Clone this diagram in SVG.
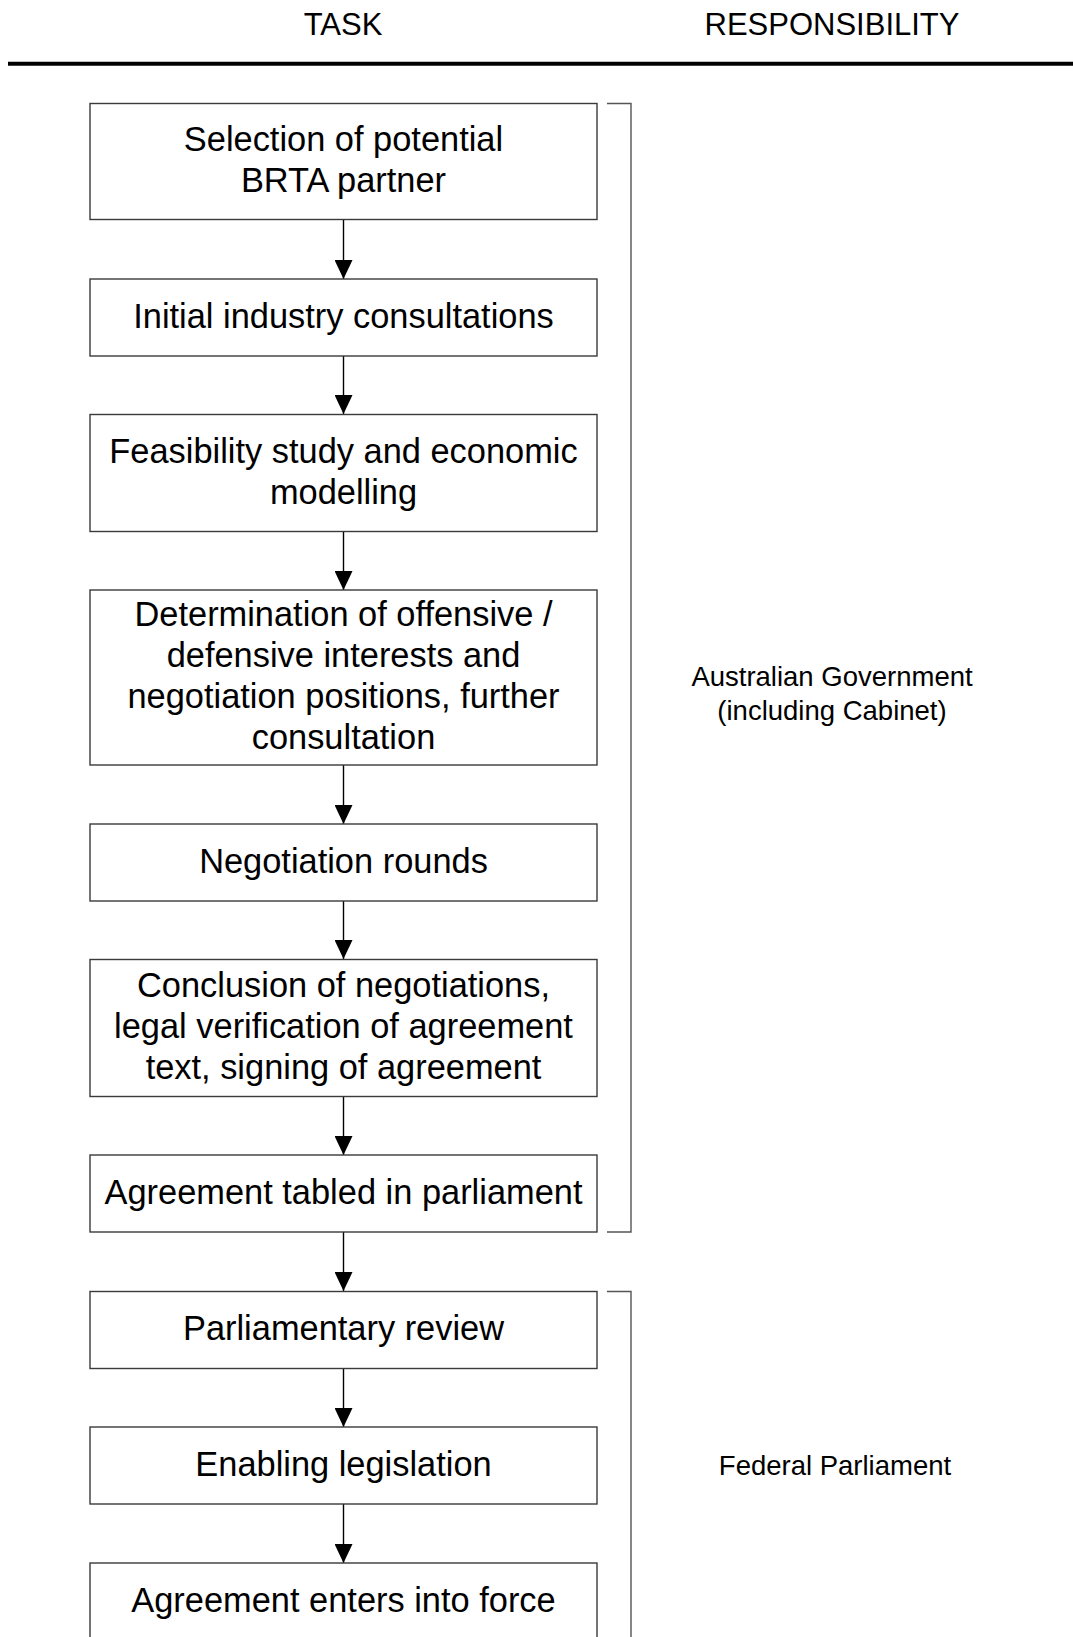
<svg xmlns="http://www.w3.org/2000/svg" width="1073" height="1637" viewBox="0 0 1073 1637">
<style>
  .bg { fill: #ffffff; }
  .box { fill: #ffffff; stroke: #3a3a3a; stroke-width: 1.4; }
  .t { font-family: "Liberation Sans", Arial, sans-serif; font-size: 34.4px; fill: #000; text-anchor: middle; }
  .h { font-family: "Liberation Sans", Arial, sans-serif; font-size: 31px; fill: #000; text-anchor: middle; }
  .r { font-family: "Liberation Sans", Arial, sans-serif; font-size: 27.5px; fill: #000; text-anchor: middle; }
  .con { stroke: #000; stroke-width: 1.4; fill: none; }
  .br { stroke: #555; stroke-width: 1.4; fill: none; }
</style>
<defs>
  <marker id="arr" markerUnits="userSpaceOnUse" markerWidth="19" markerHeight="18" viewBox="0 0 19 18" refX="19" refY="9" orient="auto">
    <path d="M0,0 L19,9 L0,18 Z" fill="#000"/>
  </marker>
</defs>
<rect class="bg" x="0" y="0" width="1073" height="1637"/>

<g id="header">
  <text class="h" x="343" y="35">TASK</text>
  <text class="h" x="832" y="35">RESPONSIBILITY</text>
  <line x1="8" y1="63.7" x2="1073" y2="63.7" stroke="#000" stroke-width="4"/>
</g>

<g id="connectors">
  <line class="con" x1="343.5" y1="219" x2="343.5" y2="279" marker-end="url(#arr)"/>
  <line class="con" x1="343.5" y1="356" x2="343.5" y2="414" marker-end="url(#arr)"/>
  <line class="con" x1="343.5" y1="531" x2="343.5" y2="590" marker-end="url(#arr)"/>
  <line class="con" x1="343.5" y1="765" x2="343.5" y2="824" marker-end="url(#arr)"/>
  <line class="con" x1="343.5" y1="901" x2="343.5" y2="959" marker-end="url(#arr)"/>
  <line class="con" x1="343.5" y1="1096" x2="343.5" y2="1155" marker-end="url(#arr)"/>
  <line class="con" x1="343.5" y1="1232" x2="343.5" y2="1291" marker-end="url(#arr)"/>
  <line class="con" x1="343.5" y1="1368" x2="343.5" y2="1427" marker-end="url(#arr)"/>
  <line class="con" x1="343.5" y1="1504" x2="343.5" y2="1563" marker-end="url(#arr)"/>
</g>

<g id="bracket-government">
  <path class="br" d="M607,103.5 L631,103.5 L631,1232 L607,1232"/>
  <text class="r" x="832" y="686">Australian Government</text>
  <text class="r" x="832" y="719.5">(including Cabinet)</text>
</g>

<g id="bracket-parliament">
  <path class="br" d="M607,1291.5 L631,1291.5 L631,1640"/>
  <text class="r" x="835" y="1475">Federal Parliament</text>
</g>

<g id="n1">
  <rect class="box" x="90" y="103.5" width="507" height="116"/>
  <text class="t" x="343.5" y="151">Selection of potential</text>
  <text class="t" x="343.5" y="191.5">BRTA partner</text>
</g>
<g id="n2">
  <rect class="box" x="90" y="279" width="507" height="77"/>
  <text class="t" x="343.5" y="327.5">Initial industry consultations</text>
</g>
<g id="n3">
  <rect class="box" x="90" y="414.5" width="507" height="117"/>
  <text class="t" x="343.5" y="462.5">Feasibility study and economic</text>
  <text class="t" x="343.5" y="503.5">modelling</text>
</g>
<g id="n4">
  <rect class="box" x="90" y="590" width="507" height="175"/>
  <text class="t" x="343.5" y="626">Determination of offensive /</text>
  <text class="t" x="343.5" y="667">defensive interests and</text>
  <text class="t" x="343.5" y="708">negotiation positions, further</text>
  <text class="t" x="343.5" y="749">consultation</text>
</g>
<g id="n5">
  <rect class="box" x="90" y="824" width="507" height="77"/>
  <text class="t" x="343.5" y="872.5">Negotiation rounds</text>
</g>
<g id="n6">
  <rect class="box" x="90" y="959.5" width="507" height="137"/>
  <text class="t" x="343.5" y="997">Conclusion of negotiations,</text>
  <text class="t" x="343.5" y="1038">legal verification of agreement</text>
  <text class="t" x="343.5" y="1079">text, signing of agreement</text>
</g>
<g id="n7">
  <rect class="box" x="90" y="1155" width="507" height="77"/>
  <text class="t" x="343.5" y="1203.5">Agreement tabled in parliament</text>
</g>
<g id="n8">
  <rect class="box" x="90" y="1291.5" width="507" height="77"/>
  <text class="t" x="343.5" y="1340">Parliamentary review</text>
</g>
<g id="n9">
  <rect class="box" x="90" y="1427" width="507" height="77"/>
  <text class="t" x="343.5" y="1475.5">Enabling legislation</text>
</g>
<g id="n10">
  <rect class="box" x="90" y="1563" width="507" height="80"/>
  <text class="t" x="343.5" y="1611.5">Agreement enters into force</text>
</g>
</svg>
